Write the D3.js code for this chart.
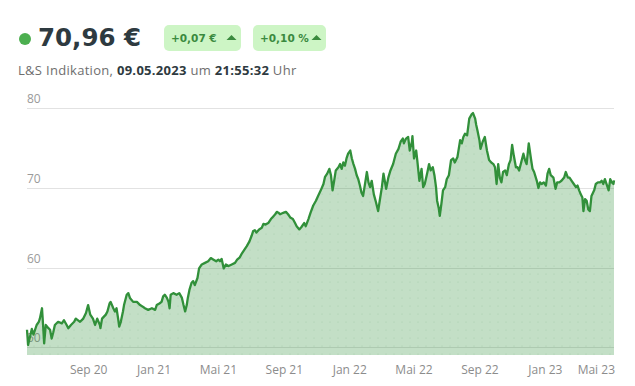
<!DOCTYPE html>
<html>
<head>
<meta charset="utf-8">
<script src="https://cdn.jsdelivr.net/npm/d3@7"></script>
<style>
  body { margin: 0; background: #fff; font-family: "Open Sans", sans-serif; }
</style>
</head>
<body>
<div id="chart"></div>
<script>
/**
 * DATA
 * trading days counted from the first point, price in EUR
 */
const startDate = new Date(2020, 4, 9);

const days = [
  0,2,9,12,18,22,24,28,30,32,35,40,43,46,49,52,58,65,69,74,77,82,88,91,99,105,110,114,118,123,
  127,131,136,137,140,147,150,154,156,161,164,167,170,172,175,179,181,186,189,192,198,205,211,216,220,226,233,239,242,247,
  251,254,257,261,264,266,268,273,279,284,289,292,295,298,300,303,307,310,313,318,321,326,332,338,343,348,353,357,360,
  363,367,371,376,382,388,392,397,401,405,410,415,419,422,425,428,433,438,441,445,450,455,459,463,466,469,472,475,479,483,
  487,491,496,500,503,508,
  512,517,520,525,529,534,539,543,548,553,556,560,564,567,570,573,576,581,584,587,590,593,596,599,603,606,609,612,615,618,
  621,624,627,631,634,637,640,643,647,651,655,658,662,665,670,674,678,683,688,693,697,701,703,707,711,714,718,719,722,726,
  728,732,736,739,742,747,750,753,757,760,763,765,768,770,773,776,780,783,787,791,795,798,803,808,811,814,817,821,825,829,
  832,836,838,840,844,846,850,854,858,862,866,870,873,876,879,882,885,888,892,895,899,902,905,908,912,915,918,923,926,929,
  932,936,940,943,946,951,954,957,960,964,968,971,974,977,982,986,989,993,997,1002,1005,1009,1012,1016,1020,1024,1027,1030,1033,1036,
  1038,1041,1044,1047,1050,1053,1058,1061,1065,1069,1072,1075,1078,1081,1085,1088,1091,1094,1095
];

const prices = [
  52.2,50.3,52.3,51.6,52.8,53.2,53.6,54.9,52.8,50.5,52.8,52.4,52.2,51.1,51.9,52.8,53.2,53.0,53.4,52.8,
  52.4,52.8,53.2,53.6,53.2,53.6,54.3,55.3,54.1,53.6,52.8,53.6,52.8,52.4,53.6,54.1,54.5,55.5,55.7,54.9,
  54.5,54.9,53.6,52.6,53.2,54.5,55.3,56.6,56.8,56.2,55.7,55.7,55.3,55.1,54.9,54.7,54.9,54.7,55.3,55.5,
  55.7,56.4,56.6,56.2,55.7,54.9,56.6,56.8,56.6,56.8,56.2,55.3,54.5,55.3,56.2,57.2,58.1,58.3,57.8,58.7,
  59.9,60.4,60.6,60.8,61.2,61.0,60.8,61.0,60.8,
  61.1,59.9,60.4,60.2,60.4,60.6,61.0,61.3,61.8,62.2,62.7,63.3,64.0,64.6,64.7,64.4,64.8,65.0,65.5,65.4,
  65.6,66.1,66.4,66.7,67.0,66.9,66.7,66.8,66.9,67.0,66.7,66.3,66.1,65.6,65.2,64.8,
  65.1,65.6,65.2,66.1,66.9,67.8,68.4,69.0,69.7,70.5,
  71.4,71.8,72.4,71.6,69.7,70.9,72.2,72.6,73.0,72.4,
  73.2,72.8,73.7,74.3,74.7,73.7,73.0,72.4,71.6,71.1,
  70.3,69.4,69.0,70.7,72.0,70.7,70.1,70.9,69.2,68.2,
  67.1,68.4,70.1,71.8,69.9,71.3,72.2,73.0,74.3,74.9,
  75.8,76.2,75.6,76.2,76.4,74.7,75.8,76.5,73.7,74.7,
  73.5,70.9,72.4,70.1,70.5,72.0,73.0,72.2,72.6,71.6,
  70.1,68.4,67.5,66.5,68.0,69.7,70.1,71.1,71.6,73.5,
  73.7,73.2,73.9,76.0,75.6,76.4,76.8,76.6,78.7,79.2,
  79.4,78.7,77.9,77.3,76.0,74.9,75.8,76.4,74.7,73.5,
  73.2,73.0,72.6,70.5,73.0,71.3,70.7,72.0,72.2,71.6,
  73.0,73.5,75.4,74.1,72.6,72.6,72.2,73.5,74.3,73.5,
  73.0,75.6,73.7,72.4,72.0,70.9,70.0,70.7,70.5,70.7,
  70.3,71.8,72.4,71.6,71.3,69.9,70.7,70.7,70.9,71.3,
  72.0,71.3,71.3,70.9,70.5,70.1,70.3,69.7,69.2,68.8,
  67.1,68.6,68.4,67.3,67.1,69.0,69.7,70.5,70.7,70.7,
  70.9,70.5,71.1,70.5,69.7,71.1,70.7,70.5,70.96
];

const yTicks = [50, 60, 70, 80];
const monthNames = ["Jan","Feb","Mär","Apr","Mai","Jun","Jul","Aug","Sep","Okt","Nov","Dez"];

const lastPrice = "70,96 €";
const changes = ["+0,07 €", "+0,10 %"];
const quoteInfo = [
  { text: "L&S Indikation, ", bold: false },
  { text: "09.05.2023", bold: true },
  { text: " um ", bold: false },
  { text: "21:55:32", bold: true },
  { text: " Uhr", bold: false }
];

/**
 * CONSTANTS
 */
const width = 635, height = 386;
const plot = { left: 27, right: 614, bottom: 355 };
const lineColor = "#31903a";
const textDark = "#2e3a40";
const wideFont = "'DejaVu Sans', sans-serif";

const data = d3.zip(days, prices).map(([d, p]) => ({
  date: d3.timeDay.offset(startDate, d),
  price: p
}));

const svg = d3.select("#chart").append("svg")
  .attr("width", width)
  .attr("height", height);

// header --------------------------------------------------------------
svg.append("circle")
  .attr("cx", 25).attr("cy", 39).attr("r", 6)
  .attr("fill", "#4caf50");

svg.append("text")
  .attr("x", 38).attr("y", 46)
  .attr("font-family", wideFont)
  .attr("font-size", 24.5)
  .attr("font-weight", 700)
  .attr("fill", textDark)
  .text(lastPrice);

const badgeX = [164, 253];
const badgeW = [77, 73];
changes.forEach((c, i) => {
  const g = svg.append("g").attr("transform", `translate(${badgeX[i]},25)`);
  g.append("rect")
    .attr("width", badgeW[i]).attr("height", 26).attr("rx", 5)
    .attr("fill", "#cdf5c5");
  g.append("text")
    .attr("x", 7).attr("y", 17)
    .attr("font-family", wideFont)
    .attr("font-size", 10.5)
    .attr("font-weight", 700)
    .attr("fill", "#3a8a3e")
    .text(c);
  const tx = badgeW[i] - 9.5;
  g.append("path")
    .attr("d", `M${tx - 5},15 L${tx + 5},15 L${tx},10 Z`)
    .attr("fill", "#3a8a3e");
});

const info = svg.append("text")
  .attr("x", 18).attr("y", 75)
  .attr("font-size", 13)
  .attr("letter-spacing", 0.3);
quoteInfo.forEach(p => {
  info.append("tspan")
    .attr("font-weight", p.bold ? 700 : 400)
    .attr("fill", p.bold ? textDark : "#6e6e6e")
    .text(p.text);
});

// scales --------------------------------------------------------------
const x = d3.scaleTime()
  .domain(d3.extent(data, d => d.date))
  .range([plot.left, plot.right]);

const y = d3.scaleLinear()
  .domain([50, 80])
  .range([347.3, 108.3]);

// grid + y labels (drawn under the area) ------------------------------
svg.append("g")
  .selectAll("line")
  .data(yTicks)
  .join("line")
  .attr("x1", plot.left).attr("x2", plot.right)
  .attr("y1", d => Math.round(y(d)) + 0.5)
  .attr("y2", d => Math.round(y(d)) + 0.5)
  .attr("stroke", "#e2e2e2");

svg.append("g")
  .selectAll("text")
  .data(yTicks)
  .join("text")
  .attr("x", plot.left)
  .attr("y", d => y(d) - 5)
  .attr("font-size", 12)
  .attr("fill", "#9a9a9a")
  .text(d => d);

// area + line ---------------------------------------------------------
const defs = svg.append("defs");
const pat = defs.append("pattern")
  .attr("id", "dots")
  .attr("width", 8).attr("height", 8)
  .attr("patternUnits", "userSpaceOnUse");
pat.append("circle")
  .attr("cx", 2).attr("cy", 2).attr("r", 0.6)
  .attr("fill", "rgba(40,120,50,0.18)");

const area = d3.area()
  .x(d => x(d.date))
  .y0(plot.bottom)
  .y1(d => y(d.price));

svg.append("path")
  .datum(data)
  .attr("d", area)
  .attr("fill", lineColor)
  .attr("fill-opacity", 0.29);

svg.append("path")
  .datum(data)
  .attr("d", area)
  .attr("fill", "url(#dots)");

svg.append("path")
  .datum(data)
  .attr("d", d3.line().x(d => x(d.date)).y(d => y(d.price)))
  .attr("fill", "none")
  .attr("stroke", lineColor)
  .attr("stroke-width", 2.3)
  .attr("stroke-linejoin", "round");

// x axis labels -------------------------------------------------------
const fmt = d => `${monthNames[d.getMonth()]} ${String(d.getFullYear()).slice(2)}`;

svg.append("g")
  .selectAll("text")
  .data(x.ticks(d3.timeMonth.every(4)))
  .join("text")
  .attr("x", d => x(d))
  .attr("y", 374)
  .attr("font-size", 12)
  .attr("fill", "#8c8c8c")
  .attr("text-anchor", "middle")
  .text(fmt)
  .each(function () {
    // keep the last label inside the plot
    const b = this.getBBox();
    if (b.x + b.width > plot.right + 1) {
      d3.select(this).attr("x", plot.right + 1).attr("text-anchor", "end");
    }
  });
</script>
</body>
</html>
